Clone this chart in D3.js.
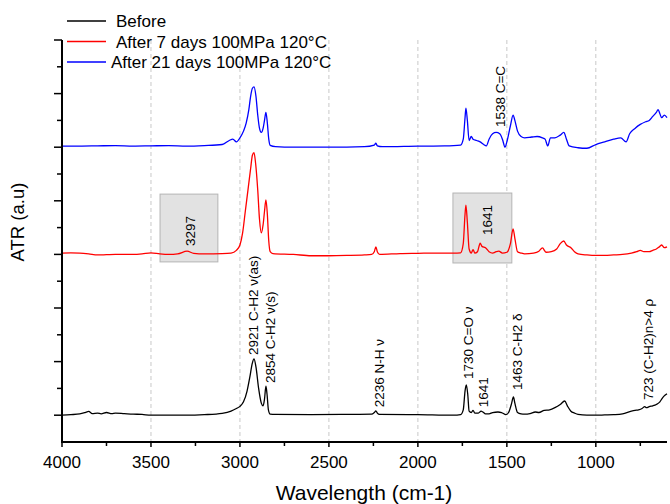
<!DOCTYPE html>
<meta charset="utf-8">
<head>
<script src="https://d3js.org/d3.v7.min.js"></script>
<style>
  body { margin: 0; background: #fff; }
  text { font-family: "Liberation Sans", Arial, sans-serif; }
</style>
</head>
<body>
<svg id="chart"></svg>
<script>
// spectra, [wavenumber, ATR in stacked units]
var before = [[4000,1.0],[3950,1.02],[3900,1.05],[3870,1.1],[3850,1.14],[3830,1.06],[3800,1.08],[3780,1.05],
  [3750,1.1],[3720,1.06],[3700,1.08],[3650,1.06],[3600,1.04],[3550,1.03],[3500,1.0],[3400,1.0],[3300,1.0],
  [3200,1.02],[3100,1.07],[3050,1.15],[3020,1.25],[3000,1.33],[2980,1.5],[2960,1.9],[2945,2.4],[2930,2.95],
  [2921,3.1],[2910,2.8],[2895,2.0],[2880,1.45],[2870,1.35],[2862,1.6],[2854,2.08],[2848,1.8],[2840,1.2],
  [2830,1.04],[2800,1.03],[2600,1.02],[2400,1.03],[2260,1.04],[2245,1.1],[2236,1.16],[2228,1.08],[2215,1.03],
  [2000,1.02],[1800,1.0],[1760,1.02],[1745,1.2],[1735,1.9],[1728,2.13],[1720,1.8],[1712,1.15],[1700,1.1],
  [1690,1.18],[1680,1.08],[1660,1.08],[1645,1.15],[1635,1.12],[1620,1.05],[1600,1.05],[1580,1.1],[1550,1.12],
  [1530,1.1],[1505,1.02],[1490,1.1],[1475,1.4],[1463,1.68],[1455,1.45],[1440,1.1],[1420,1.05],[1400,1.04],
  [1370,1.06],[1340,1.12],[1320,1.1],[1290,1.18],[1260,1.2],[1230,1.28],[1200,1.4],[1175,1.53],[1160,1.35],
  [1140,1.15],[1120,1.08],[1100,1.03],[1050,1.0],[1000,1.0],[950,1.01],[900,1.02],[850,1.05],[800,1.15],
  [780,1.18],[760,1.2],[740,1.25],[725,1.32],[715,1.28],[700,1.32],[680,1.35],[660,1.4],[640,1.5],
  [625,1.65],[610,1.75],[600,1.8]];

var after7 = [[4000,7.05],[3950,7.06],[3900,7.05],[3850,7.02],[3800,6.98],[3750,6.99],[3700,7.0],[3650,7.0],
  [3600,7.0],[3550,7.02],[3500,7.06],[3450,7.02],[3400,7.0],[3350,7.02],[3297,7.12],[3260,7.04],[3200,7.02],
  [3100,7.03],[3050,7.05],[3020,7.15],[3000,7.35],[2985,7.8],[2970,8.6],[2955,9.4],[2940,10.2],[2930,10.7],
  [2921,10.8],[2912,10.4],[2900,9.4],[2890,8.3],[2880,7.8],[2870,8.1],[2862,8.6],[2854,9.03],[2846,8.5],
  [2838,7.5],[2830,7.1],[2815,7.03],[2700,7.0],[2600,6.95],[2500,6.95],[2400,6.96],[2300,6.98],[2260,7.0],
  [2245,7.1],[2236,7.28],[2228,7.1],[2215,7.0],[2100,7.03],[2000,7.04],[1900,7.05],[1800,7.05],[1760,7.06],
  [1745,7.4],[1735,8.5],[1730,8.84],[1722,8.2],[1712,7.2],[1700,7.05],[1690,7.18],[1680,7.05],[1665,7.1],
  [1650,7.42],[1640,7.3],[1620,7.25],[1600,7.1],[1580,7.05],[1560,7.1],[1545,7.12],[1525,7.05],[1500,7.08],
  [1480,7.4],[1465,7.95],[1455,7.6],[1440,7.1],[1420,7.05],[1400,7.02],[1350,7.05],[1320,7.12],[1300,7.24],
  [1280,7.08],[1250,7.1],[1220,7.2],[1200,7.4],[1180,7.5],[1165,7.35],[1140,7.25],[1120,7.1],[1100,7.02],
  [1050,6.98],[1000,6.96],[950,6.96],[900,6.98],[850,7.0],[800,7.05],[770,7.1],[750,7.15],[730,7.1],
  [700,7.1],[680,7.15],[660,7.2],[640,7.3],[630,7.35],[615,7.25],[600,7.28]];

var after21 = [[4000,11.04],[3900,11.04],[3800,11.05],[3700,11.06],[3600,11.04],[3500,11.05],[3400,11.06],
  [3300,11.04],[3200,11.06],[3100,11.1],[3060,11.25],[3040,11.3],[3020,11.2],[3000,11.35],[2980,11.6],
  [2965,11.9],[2950,12.4],[2940,12.9],[2930,13.2],[2921,13.25],[2910,12.9],[2900,12.2],[2890,11.7],
  [2880,11.55],[2870,11.7],[2862,12.0],[2854,12.3],[2846,11.9],[2838,11.3],[2830,11.07],[2800,11.02],
  [2700,11.0],[2500,11.0],[2300,11.02],[2245,11.08],[2236,11.15],[2228,11.05],[2200,11.02],[2000,11.04],
  [1850,11.05],[1760,11.08],[1745,11.3],[1735,12.1],[1730,12.46],[1722,12.0],[1712,11.25],[1700,11.4],
  [1690,11.3],[1670,11.25],[1650,11.2],[1630,11.1],[1615,11.05],[1600,11.3],[1580,11.5],[1560,11.55],
  [1540,11.5],[1525,11.3],[1510,11.0],[1500,11.2],[1480,11.8],[1465,12.2],[1455,12.0],[1440,11.6],
  [1420,11.4],[1400,11.35],[1360,11.38],[1330,11.4],[1300,11.35],[1285,11.3],[1270,11.05],[1255,11.35],
  [1230,11.35],[1200,11.45],[1180,11.55],[1165,11.3],[1150,11.05],[1100,10.98],[1050,10.96],[1000,11.1],
  [950,11.2],[900,11.3],[860,11.35],[830,11.2],[810,11.5],[780,11.7],[750,11.85],[720,11.95],[700,12.0],
  [680,12.15],[660,12.3],[650,12.4],[640,12.25],[630,12.1],[615,12.2],[600,12.1]];

var seriesNames = ["Before", "After 7 days 100MPa 120°C", "After 21 days 100MPa 120°C"];
var seriesColors = ["#000000", "#ff0000", "#0000ff"];

var xTicks = [4000, 3500, 3000, 2500, 2000, 1500, 1000];
var xMinor = [3750, 3250, 2750, 2250, 1750, 1250, 750];

// peak labels: text, wavenumber of text baseline, start height
var peakText = ["2921 C-H2 ν(as)", "2854 C-H2 ν(s)", "2236 N-H ν", "1730 C=O ν", "1641",
  "1463 C-H2 δ", "723 (C-H2)n>4 ρ", "1538 C=C", "3297", "1641"];
var peakX = [2899, 2803, 2191, 1691, 1607, 1416, 680, 1511, 3253, 1584];
var peakY = [3.25, 2.2, 1.3, 2.35, 1.3, 1.94, 1.57, 11.75, 7.31, 7.72];

// shaded boxes [w1, w2, u1, u2]
var boxes = [[3449, 3124, 6.72, 9.25], [1803, 1472, 6.68, 9.29]];

var W = 670, H = 504;
var svg = d3.select("#chart").attr("width", W).attr("height", H);

var x = d3.scaleLinear().domain([4000, 600]).range([62, 667]);
var y = d3.scaleLinear().domain([0, 15]).range([442, 40]);

// grid
svg.append("g").selectAll("line").data(xTicks.slice(1)).join("line")
  .attr("x1", d => x(d)).attr("x2", d => x(d))
  .attr("y1", y(15)).attr("y2", y(0))
  .attr("stroke", "#c8c8c8").attr("stroke-width", 1).attr("stroke-dasharray", "4,3");

// boxes
svg.append("g").selectAll("rect").data(boxes).join("rect")
  .attr("x", d => x(d[0])).attr("y", d => y(d[3]))
  .attr("width", d => x(d[1]) - x(d[0])).attr("height", d => y(d[2]) - y(d[3]))
  .attr("fill", "#e2e2e2").attr("stroke", "#b4b4b4").attr("stroke-width", 1);

// spectra
var line = d3.line().x(d => x(d[0])).y(d => y(d[1])).curve(d3.curveMonotoneX);
[before, after7, after21].forEach(function(s, i) {
  svg.append("path").datum(s).attr("d", line)
    .attr("fill", "none").attr("stroke", seriesColors[i]).attr("stroke-width", 1.3);
});

// axes
var xAxis = svg.append("g").attr("transform", "translate(0," + y(0) + ")");
xAxis.append("line").attr("x1", x(4000) - 1).attr("x2", x(600)).attr("stroke", "#000").attr("stroke-width", 2);
xAxis.selectAll(".maj").data(xTicks).join("line")
  .attr("x1", d => x(d)).attr("x2", d => x(d)).attr("y1", 0).attr("y2", 5)
  .attr("stroke", "#000").attr("stroke-width", 1.5);
xAxis.selectAll(".min").data(xMinor).join("line")
  .attr("x1", d => x(d)).attr("x2", d => x(d)).attr("y1", 0).attr("y2", 4)
  .attr("stroke", "#000").attr("stroke-width", 1.5);
xAxis.selectAll("text").data(xTicks).join("text")
  .attr("x", d => x(d)).attr("y", 26).attr("text-anchor", "middle")
  .attr("font-size", 17).text(d => d);

var yAxis = svg.append("g").attr("transform", "translate(" + x(4000) + ",0)");
yAxis.append("line").attr("y1", y(15)).attr("y2", y(0) + 1).attr("stroke", "#000").attr("stroke-width", 2);
yAxis.selectAll(".tk").data(d3.range(1, 16)).join("line")
  .attr("y1", d => y(d)).attr("y2", d => y(d))
  .attr("x1", d => d % 2 ? -8 : -5).attr("x2", 0)
  .attr("stroke", "#000").attr("stroke-width", 1.5);

svg.append("text").attr("x", 364).attr("y", 500).attr("text-anchor", "middle")
  .attr("font-size", 21).text("Wavelength (cm-1)");
svg.append("text").attr("transform", "translate(24,222) rotate(-90)").attr("text-anchor", "middle")
  .attr("font-size", 18.5).text("ATR (a.u)");

// peak labels
svg.append("g").selectAll("text").data(peakText).join("text")
  .attr("transform", (d, i) => "translate(" + x(peakX[i]) + "," + y(peakY[i]) + ") rotate(-90)")
  .attr("font-size", 13.5).text(d => d);

// legend
var leg = svg.append("g");
seriesNames.forEach(function(n, i) {
  var ly = 21 + i * 20.5;
  leg.append("line").attr("x1", 67).attr("x2", 106).attr("y1", ly).attr("y2", ly)
    .attr("stroke", seriesColors[i]).attr("stroke-width", 1.3);
  leg.append("text").attr("x", i == 2 ? 111 : 116).attr("y", ly + 6)
    .attr("font-size", 17).text(n);
});
</script>
</body>
